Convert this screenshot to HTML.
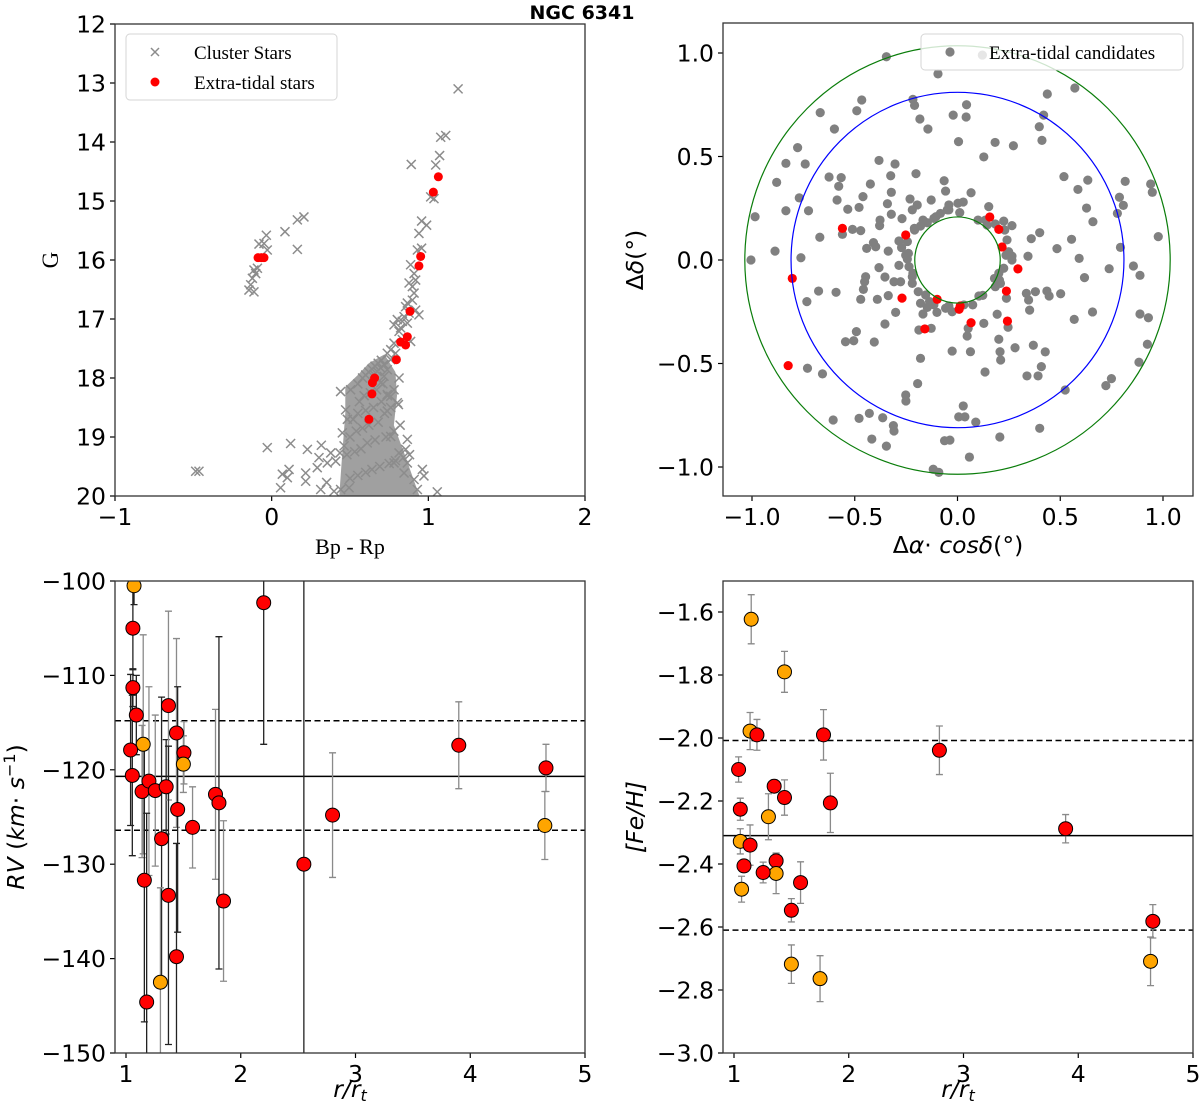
<!DOCTYPE html>
<html><head><meta charset="utf-8"><title>NGC 6341</title>
<style>
html,body{margin:0;padding:0;background:#fff;overflow:hidden;width:1200px;height:1114px;}
svg{display:block;}
.tk{font-family:"DejaVu Sans","Liberation Sans",sans-serif;font-size:23.5px;fill:#000;}
.serif{font-family:"Liberation Serif","DejaVu Serif",serif;}
</style></head>
<body>
<svg id="fig" width="1200" height="1114" viewBox="0 0 1200 1114" xmlns="http://www.w3.org/2000/svg" overflow="hidden">
<defs>
<clipPath id="c-tl"><rect x="115" y="24" width="470" height="472"/></clipPath>
<clipPath id="c-tr"><rect x="723" y="23" width="470" height="473"/></clipPath>
<clipPath id="c-bl"><rect x="115" y="581" width="470" height="472"/></clipPath>
<clipPath id="c-br"><rect x="723" y="581" width="470" height="472"/></clipPath>
</defs>
<text x="582" y="19" text-anchor="middle" font-family="DejaVu Sans, Liberation Sans, sans-serif" font-weight="bold" font-size="19">NGC 6341</text>
<g id="g-tl"></g>
<g id="g-tr"></g>
<g id="g-bl"></g>
<g id="g-br"></g>
<text class="serif" font-size="23" transform="translate(58,260) rotate(-90)" text-anchor="middle">G</text>
<text class="serif" font-size="22" x="350" y="554" text-anchor="middle">Bp - Rp</text>
<text class="tk" transform="translate(643,260) rotate(-90)" text-anchor="middle">Δ<tspan font-style="italic">δ</tspan>(°)</text>
<text class="tk" x="958" y="553" text-anchor="middle">Δ<tspan font-style="italic">α</tspan>· <tspan font-style="italic">cosδ</tspan>(°)</text>
<text class="tk" transform="translate(24,817) rotate(-90)" text-anchor="middle"><tspan font-style="italic">RV</tspan> (<tspan font-style="italic">km</tspan>· <tspan font-style="italic">s</tspan><tspan dy="-9" font-size="16">−1</tspan><tspan dy="9">)</tspan></text>
<text class="tk" font-style="italic" transform="translate(643,817) rotate(-90)" text-anchor="middle">[Fe/H]</text>
<text class="tk" font-style="italic" x="350" y="1097" text-anchor="middle">r/r<tspan dy="4" font-size="16">t</tspan></text>
<text class="tk" font-style="italic" x="958" y="1097" text-anchor="middle">r/r<tspan dy="4" font-size="16">t</tspan></text>
</svg>
<script>
// ---------- CMD data (Bp-Rp, G) ----------
const cmdGrayColor=[1.19,1.079,1.111,1.072,1.047,0.891,1.015,1.036,0.957,0.989,0.94,0.957,0.93,0.887,0.909,0.919,0.898,0.877,0.909,0.898,0.866,0.855,0.919,0.877,0.845,0.94,0.834,0.802,0.781,0.823,0.866,0.813,0.887,0.834,0.781,0.76,0.738,0.791,0.813,0.809,0.76,0.717,0.696,0.674,0.653,0.738,0.717,0.696,0.738,-0.034,-0.049,-0.081,0.085,0.164,0.206,0.164,-0.028,-0.091,-0.102,-0.123,-0.134,-0.145,-0.113,-0.113,-0.485,-0.464,-0.028,0.121,0.228,0.317,0.068,0.1,0.111,0.057,0.217,0.217,0.302,0.291,0.355,0.377,0.409,0.436,0.351,0.398,0.313,0.44,0.494,0.962,0.972,1.057,0.866,0.855,0.813,0.76,0.802,0.738,0.76,0.781,0.44,0.504,0.472,0.483,0.451,0.462,0.866,0.845,0.909,0.93,0.781,0.55,0.58,0.6,0.62,0.64,0.66,0.68,0.7,0.56,0.59,0.63,0.67,0.71,0.52,0.55,0.6,0.65,0.7,0.74,0.5,0.54,0.58,0.62,0.68,0.72,0.76,0.48,0.53,0.57,0.61,0.66,0.73,0.78,0.82,0.5,0.55,0.6,0.64,0.69,0.75,0.79,0.84,0.88];
const cmdGrayMag=[13.10,13.92,13.89,14.23,14.39,14.38,14.93,14.96,15.34,15.41,15.55,15.80,15.83,16.08,16.23,16.34,16.45,16.39,16.56,16.68,16.73,16.79,16.85,16.90,16.96,16.93,17.04,17.01,17.10,17.15,17.07,17.21,17.38,17.35,17.41,17.52,17.58,17.58,18.00,18.45,17.69,17.77,17.83,17.89,17.94,17.86,17.97,18.08,18.28,15.58,15.72,15.73,15.52,15.32,15.27,15.82,15.83,16.14,16.23,16.31,16.42,16.51,16.54,16.17,19.58,19.58,19.18,19.11,19.21,19.14,19.63,19.69,19.55,19.86,19.61,19.75,19.35,19.52,19.44,19.27,19.41,19.27,19.77,19.92,19.89,19.89,19.86,19.55,19.66,19.93,19.04,19.21,19.27,18.99,18.42,18.56,18.31,18.20,18.23,18.20,18.54,18.70,18.93,19.15,19.44,19.61,19.72,19.89,19.44,18.1,18.0,17.95,17.9,17.85,17.8,17.75,17.7,18.4,18.3,18.25,18.2,18.1,18.7,18.6,18.55,18.5,18.4,18.3,19.0,18.9,18.85,18.8,18.75,18.6,18.5,19.3,19.25,19.2,19.1,19.05,19.0,18.9,18.8,19.7,19.65,19.6,19.55,19.5,19.45,19.4,19.35,19.3];
const cmdRedColor=[-0.087,-0.066,-0.049,1.064,1.032,0.951,0.94,0.883,0.866,0.823,0.855,0.796,0.657,0.643,0.64,0.621];
const cmdRedMag=[15.96,15.96,15.96,14.59,14.85,15.94,16.10,16.87,17.30,17.39,17.44,17.69,18.00,18.08,18.27,18.70];
const cmdDenseColor=[0.62,0.72,0.79,0.80,0.78,0.85,0.95,0.43,0.45,0.47,0.47,0.55];
const cmdDenseMag=[17.75,17.6,17.9,18.3,18.8,19.3,20.05,20.05,19.3,18.6,18.15,17.95];
const cmdXTicks=[-1,0,1,2], cmdXLabels=["−1","0","1","2"];
const cmdYTicks=[12,13,14,15,16,17,18,19,20];
// ---------- Sky data ----------
const skyGrayX=[-0.346,-0.095,0.437,0.571,-0.466,-0.49,-0.668,-0.217,-0.209,0.044,-0.021,0.042,-0.183,-0.144,-0.599,0.419,0.398,0.411,0.005,0.183,0.272,-0.778,0.128,-0.382,-0.304,-0.835,-0.741,-0.202,-0.625,-0.566,-0.325,0.518,0.634,0.816,0.94,0.948,-0.88,-0.424,-0.065,-0.578,-0.058,0.066,0.586,-0.322,-0.46,0.788,0.807,-0.77,-0.586,-0.231,-0.128,0.028,-0.341,-0.196,-0.042,0.002,-0.479,-0.534,-0.22,-0.05,-0.835,-0.725,0.628,0.152,0.011,-0.322,0.778,-0.985,-0.27,-0.377,-0.105,-0.168,0.659,0.1,0.225,-0.379,-0.21,0.265,0.144,-0.511,-0.471,-0.56,0.4,-0.67,0.359,0.555,0.977,-0.285,-0.409,-0.244,-0.442,-0.398,-0.337,-0.272,0.484,0.793,-0.888,-0.252,0.236,0.343,-0.762,0.592,0.265,-0.244,-1.005,-0.285,-0.236,-0.382,0.856,0.738,0.225,0.888,-0.447,-0.353,-0.22,0.18,0.618,-0.452,-0.309,-0.277,-0.22,0.209,-0.458,-0.676,-0.591,-0.155,0.123,0.335,0.379,0.435,0.502,0.446,-0.733,-0.471,-0.39,-0.337,-0.136,-0.042,0.074,0.238,0.346,-0.147,-0.1,-0.026,-0.168,-0.301,0.193,0.351,0.657,0.888,0.929,0.568,-0.353,0.128,0.246,-0.188,-0.128,0.052,-0.492,0.047,-0.545,-0.505,-0.405,0.201,0.369,0.28,-0.026,0.063,0.207,0.427,0.924,0.21,-0.18,0.883,0.408,-0.73,-0.657,0.134,0.338,0.392,0.749,0.722,-0.194,0.524,-0.252,-0.251,0.028,0.006,0.036,0.089,-0.605,-0.479,-0.429,-0.364,-0.312,-0.309,0.4,0.206,-0.417,-0.346,-0.063,-0.037,0.058,-0.118,-0.091,-0.209,-0.18,-0.147,-0.115,-0.083,-0.042,0.136,0.184,0.23,0.241,0.249,0.265,0.201,0.204,0.184,0.104,0.031,-0.058,-0.115,-0.18,-0.191,-0.217,-0.239,0.121];
const skyGrayY=[0.982,0.899,0.802,0.831,0.773,0.721,0.712,0.776,0.747,0.75,0.7,0.691,0.681,0.633,0.633,0.7,0.644,0.578,0.572,0.568,0.552,0.543,0.498,0.481,0.464,0.467,0.464,0.417,0.401,0.398,0.407,0.403,0.386,0.38,0.367,0.327,0.375,0.367,0.383,0.356,0.333,0.325,0.341,0.327,0.306,0.303,0.264,0.3,0.29,0.295,0.29,0.28,0.272,0.266,0.266,0.274,0.254,0.245,0.242,0.242,0.238,0.238,0.251,0.258,0.229,0.221,0.225,0.209,0.2,0.193,0.209,0.193,0.185,0.193,0.188,0.166,0.153,0.166,0.169,0.148,0.142,0.124,0.132,0.11,0.103,0.1,0.113,0.092,0.084,0.089,0.056,0.064,0.043,0.06,0.055,0.061,0.043,0.023,0.023,0.018,0.011,0.008,0,0.005,0,-0.026,-0.032,-0.037,-0.029,-0.042,-0.04,-0.074,-0.081,-0.082,-0.081,-0.089,-0.085,-0.105,-0.105,-0.105,-0.113,-0.113,-0.142,-0.15,-0.156,-0.169,-0.171,-0.161,-0.153,-0.15,-0.163,-0.174,-0.201,-0.19,-0.19,-0.172,-0.201,-0.222,-0.217,-0.185,-0.193,-0.229,-0.253,-0.25,-0.261,-0.253,-0.262,-0.242,-0.251,-0.261,-0.279,-0.287,-0.309,-0.306,-0.325,-0.338,-0.33,-0.33,-0.346,-0.367,-0.395,-0.39,-0.396,-0.383,-0.412,-0.424,-0.44,-0.443,-0.443,-0.444,-0.407,-0.483,-0.475,-0.494,-0.515,-0.523,-0.55,-0.541,-0.56,-0.56,-0.573,-0.607,-0.597,-0.628,-0.652,-0.681,-0.705,-0.758,-0.758,-0.783,-0.773,-0.765,-0.741,-0.762,-0.8,-0.826,-0.813,-0.855,-0.865,-0.899,-0.873,-0.87,-0.952,-1.011,-1.026,0.145,0.164,0.18,0.201,0.225,0.242,0.193,0.174,0.145,0.097,0.04,0.019,-0.064,-0.097,-0.129,-0.174,-0.217,-0.233,-0.217,-0.209,-0.153,-0.064,0.032,0.99];
const skyRedX=[-0.56,-0.252,0.157,0.201,0.217,0.294,0.238,0.243,0.066,0.013,0.008,-0.099,-0.27,-0.159,-0.804,-0.824];
const skyRedY=[0.153,0.121,0.208,0.148,0.063,-0.043,-0.15,-0.295,-0.303,-0.222,-0.238,-0.19,-0.184,-0.333,-0.089,-0.51];
const ringRadii=[1.035,0.81,0.208];
const ringColors=["#0a7d0a","#0000ff","#0a7d0a"];
const skyTicks=[-1,-0.5,0,0.5,1], skyLabels=["−1.0","−0.5","0.0","0.5","1.0"];
// ---------- RV data ----------
const rvR=[1.07,1.06,1.06,1.09,1.15,1.04,1.055,1.14,1.2,1.255,1.35,1.37,1.31,1.44,1.505,1.50,1.45,1.58,1.16,1.37,1.44,1.30,1.18,1.78,1.81,1.85,2.20,2.55,2.80,3.90,4.66,4.65];
const rvVal=[-100.5,-105.0,-111.3,-114.2,-117.3,-117.9,-120.6,-122.3,-121.2,-122.2,-121.8,-113.2,-127.3,-116.1,-118.2,-119.4,-124.2,-126.1,-131.7,-133.3,-139.8,-142.5,-144.6,-122.6,-123.5,-133.9,-102.3,-130.0,-124.8,-117.4,-119.8,-125.9];
const rvErr=[2,4.4,2,4.2,11.6,8,8.5,7,10,8,5,10,15,10,3.3,3,13,4.3,15,15.8,12,10,20,9,17.6,8.5,15,40,6.6,4.6,2.5,3.6];
const rvOrange=[1,0,0,0,1,0,0,0,0,0,0,0,0,0,0,1,0,0,0,0,0,1,0,0,0,0,0,0,0,0,0,1];
const rvDarkBar=[1,1,1,1,0,1,1,0,0,0,1,0,1,0,0,0,1,0,1,1,1,0,1,0,1,0,1,1,0,0,0,0];
const rvLines=[-120.7,-114.8,-126.4];
const rvYTicks=[-100,-110,-120,-130,-140,-150], rvYLabels=["−100","−110","−120","−130","−140","−150"];
const rTicks=[1,2,3,4,5];
// ---------- [Fe/H] data ----------
const feR=[1.15,1.44,1.14,1.20,1.78,2.79,1.04,1.055,1.35,1.44,1.84,1.30,3.89,1.055,1.14,1.087,1.367,1.367,1.254,1.066,1.58,1.5,4.65,1.5,1.75,4.63];
const feVal=[-1.623,-1.79,-1.978,-1.99,-1.99,-2.039,-2.10,-2.226,-2.153,-2.189,-2.206,-2.25,-2.288,-2.328,-2.34,-2.406,-2.39,-2.43,-2.427,-2.48,-2.459,-2.547,-2.582,-2.718,-2.764,-2.709];
const feErr=[0.078,0.065,0.059,0.049,0.08,0.077,0.04,0.035,0.02,0.056,0.094,0.073,0.045,0.04,0.064,0.015,0.025,0.064,0.033,0.041,0.066,0.037,0.053,0.061,0.073,0.077];
const feOrange=[1,1,1,0,0,0,0,0,0,0,0,1,0,1,0,0,0,1,0,1,0,0,0,1,1,1];
const feLines=[-2.31,-2.008,-2.61];
const feYTicks=[-1.6,-1.8,-2.0,-2.2,-2.4,-2.6,-2.8,-3.0], feYLabels=["−1.6","−1.8","−2.0","−2.2","−2.4","−2.6","−2.8","−3.0"];

const NS="http://www.w3.org/2000/svg";
function mk(tag,attrs,parent){const e=document.createElementNS(NS,tag);for(const k in attrs)e.setAttribute(k,attrs[k]);parent.appendChild(e);return e;}
function lin(d0,d1,p0,p1){return v=>p0+(v-d0)*(p1-p0)/(d1-d0);}

function axes(g,box,sx,sy,xt,xl,yt,yl,prefix){
  xt.forEach((v,i)=>{
    const t=mk('line',{x1:sx(v),x2:sx(v),y1:box.y+box.h,y2:box.y+box.h+5,stroke:'#000','stroke-width':1.2},g);
    
    
    const l=mk('text',{x:sx(v),y:box.y+box.h+29,'text-anchor':'middle',class:'tk'},g);
    l.textContent=xl[i];
    
    
  });
  yt.forEach((v,i)=>{
    const t=mk('line',{x1:box.x-5,x2:box.x,y1:sy(v),y2:sy(v),stroke:'#000','stroke-width':1.2},g);
    
    
    const l=mk('text',{x:box.x-9,y:sy(v)+8.5,'text-anchor':'end',class:'tk'},g);
    l.textContent=yl[i];
    
    
  });
  const f=mk('rect',{x:box.x,y:box.y,width:box.w,height:box.h,fill:'none',stroke:'#333','stroke-width':1.3},g);
  
  
}

// ===== CMD =====
(function(){
  const g=document.getElementById('g-tl');
  const box={x:115,y:24,w:470,h:472};
  const sx=lin(-1,2,115,585), sy=lin(12,20,24,496);
  const dg=mk('g',{'clip-path':'url(#c-tl)'},g);
  const poly=mk('polygon',{points:cmdDenseColor.map((c,i)=>sx(c)+','+sy(cmdDenseMag[i])).join(' '),fill:'#a0a0a0'},dg);
  
  
  cmdGrayColor.forEach((c,i)=>{
    const x=sx(c),y=sy(cmdGrayMag[i]),s=4.5;
    const p=mk('path',{d:`M${x-s},${y-s}L${x+s},${y+s}M${x-s},${y+s}L${x+s},${y-s}`,stroke:'#8c8c8c','stroke-width':1.5},dg);
    
    
  });
  cmdRedColor.forEach((c,i)=>{
    const p=mk('circle',{cx:sx(c),cy:sy(cmdRedMag[i]),r:4.5,fill:'#ff0000'},dg);
    
    
  });
  axes(g,box,sx,sy,cmdXTicks,cmdXLabels,cmdYTicks,cmdYTicks.map(String),'cmd');
  const lg=mk('g',{},g);
  
  
  mk('rect',{x:126,y:34,width:211,height:66,rx:4,fill:'#fff','fill-opacity':0.85,stroke:'#d6d6d6'},lg);
  mk('path',{d:'M151,48L159,56M151,56L159,48',stroke:'#8c8c8c','stroke-width':1.5},lg);
  mk('circle',{cx:155,cy:82,r:4.5,fill:'#ff0000'},lg);
  const t1=mk('text',{x:194,y:59,class:'serif','font-size':19},lg);t1.textContent='Cluster Stars';
  
  
  const t2=mk('text',{x:194,y:89,class:'serif','font-size':19},lg);t2.textContent='Extra-tidal stars';
  
  
})();

// ===== Sky =====
(function(){
  const g=document.getElementById('g-tr');
  const box={x:723,y:23,w:470,h:473};
  const sx=lin(-1,1,752,1163), sy=lin(1,-1,53,467);
  const dg=mk('g',{'clip-path':'url(#c-tr)'},g);
  skyGrayX.forEach((v,i)=>{
    const p=mk('circle',{cx:sx(v),cy:sy(skyGrayY[i]),r:4.6,fill:'#808080'},dg);
    
    
  });
  skyRedX.forEach((v,i)=>{
    const p=mk('circle',{cx:sx(v),cy:sy(skyRedY[i]),r:4.6,fill:'#ff0000'},dg);
    
    
  });
  ringRadii.forEach((r,i)=>{
    const e=mk('ellipse',{cx:sx(0),cy:sy(0),rx:sx(r)-sx(0),ry:sy(0)-sy(r),fill:'none',stroke:ringColors[i],'stroke-width':1.2},dg);
    
    
  });
  axes(g,box,sx,sy,skyTicks,skyLabels,skyTicks,skyLabels,'sky');
  const lg=mk('g',{},g);
  
  
  mk('rect',{x:921,y:34,width:262,height:36,rx:4,fill:'#fff','fill-opacity':0.8,stroke:'#d6d6d6'},lg);
  mk('circle',{cx:950,cy:52,r:4.6,fill:'#808080'},lg);
  const t=mk('text',{x:989,y:59,class:'serif','font-size':19},lg);t.textContent='Extra-tidal candidates';
  
  
})();

// ===== error-bar panels =====
function errPanel(gid,clip,box,sx,sy,xs,ys,es,orange,dark,lines,yt,yl,prefix){
  const g=document.getElementById(gid);
  const dg=mk('g',{'clip-path':'url('+clip+')'},g);
  lines.forEach((v,i)=>{
    const l=mk('line',{x1:box.x,x2:box.x+box.w,y1:sy(v),y2:sy(v),stroke:'#000','stroke-width':1.5,'stroke-dasharray':i?'6,3.5':'none'},dg);
    
    
  });
  xs.forEach((x,i)=>{
    const c=dark&&dark[i]?'#222':'#8a8a8a';
    const X=sx(x),y1=sy(ys[i]+es[i]),y2=sy(ys[i]-es[i]);
    const b=mk('path',{d:`M${X},${y1}L${X},${y2}M${X-3.5},${y1}L${X+3.5},${y1}M${X-3.5},${y2}L${X+3.5},${y2}`,stroke:c,'stroke-width':1.3,fill:'none'},dg);
    
    
  });
  xs.forEach((x,i)=>{
    const p=mk('circle',{cx:sx(x),cy:sy(ys[i]),r:7,fill:orange[i]?'#ffa500':'#ff0000',stroke:'#000','stroke-width':1},dg);
    
    
  });
  axes(g,box,sx,sy,rTicks,rTicks.map(String),yt,yl,prefix);
}
errPanel('g-bl','#c-bl',{x:115,y:581,w:470,h:472},lin(1,5,126,585),lin(-100,-150,581,1053),rvR,rvVal,rvErr,rvOrange,rvDarkBar,rvLines,rvYTicks,rvYLabels,'rv');
errPanel('g-br','#c-br',{x:723,y:581,w:470,h:472},lin(1,5,734,1193),lin(-1.6,-3.0,612,1053),feR,feVal,feErr,feOrange,null,feLines,feYTicks,feYLabels,'feh');
</script>
</body></html>
